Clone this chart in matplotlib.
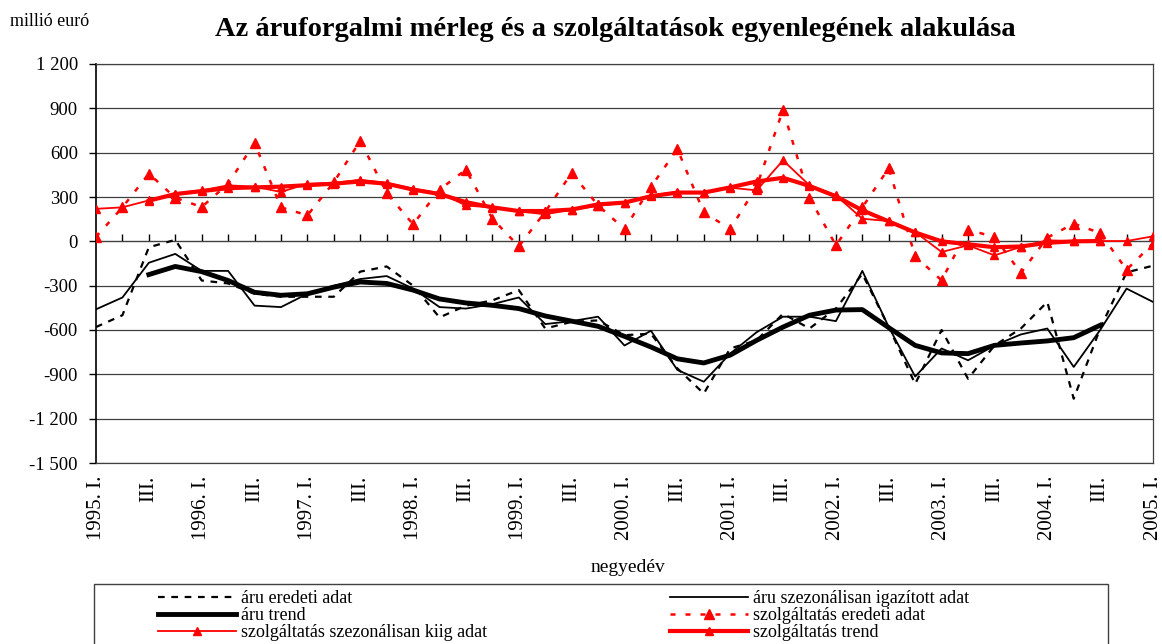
import numpy as np
import matplotlib
matplotlib.use("Agg")
import matplotlib.pyplot as plt
from matplotlib.patches import Rectangle

plt.rcParams["font.family"] = ["Liberation Serif", "DejaVu Serif"]

# quarterly data, 1995 I .. 2005 I (41 quarters), millió euró
quarters = list(range(41))
tick_labels = []
for year in range(1995, 2006):
    tick_labels += [f"{year}. I.", "III."]
tick_labels = tick_labels[:21]

aru_eredeti = [-580, -500, -40, 10, -265, -285, -355, -375, -375, -375,
               -205, -170, -300, -515, -435, -400, -330, -590, -545, -535,
               -635, -625, -860, -1030, -725, -670, -490, -590, -455, -220,
               -580, -965, -600, -930, -705, -590, -410, -1065, -590, -210, -165]
aru_szez = [-460, -380, -145, -85, -200, -200, -435, -445, -355, -300,
            -255, -235, -320, -445, -455, -425, -380, -560, -540, -510,
            -705, -605, -870, -950, -760, -615, -510, -510, -540, -200,
            -580, -915, -725, -805, -705, -630, -590, -850, -600, -320, -410]
aru_trend = [np.nan, np.nan, -225, -170, -205, -265, -345, -365, -355, -310,
             -275, -285, -330, -390, -417, -433, -455, -505, -540, -575,
             -643, -715, -795, -823, -770, -670, -580, -500, -465, -462,
             -584, -704, -755, -760, -704, -688, -674, -652, -568, np.nan, np.nan]
szolg_eredeti = [30, 230, 458, 295, 232, 390, 665, 230, 176, 400,
                 680, 327, 115, 350, 485, 153, -34, 200, 462, 243,
                 83, 368, 625, 196, 83, 370, 890, 295, -27, 230,
                 495, -101, -264, 79, 29, -214, 25, 120, 56, -192, -15]
szolg_szez = [220, 230, 277, 322, 345, 379, 370, 334, 390, 395,
              417, 395, 356, 327, 243, 228, 203, 183, 214, 240,
              260, 311, 334, 325, 363, 345, 548, 379, 311, 153,
              137, 63, -72, -27, -95, -38, 7, 2, 2, 2, 34]
szolg_trend = [np.nan, np.nan, 275, 320, 340, 360, 365, 370, 380, 390,
               405, 390, 350, 320, 265, 230, 205, 205, 215, 250,
               262, 305, 330, 330, 365, 405, 430, 375, 305, 210,
               135, 60, 0, -20, -40, -35, -10, 0, 2, np.nan, np.nan]

W, H = 1162, 644
fig = plt.figure(figsize=(W / 100, H / 100), dpi=100)
ax = fig.add_axes([96 / W, 1 - 463 / H, (1153 - 96) / W, (463 - 64) / H])

l1, = ax.plot(quarters, aru_eredeti, color="black", lw=1.6, ls=(0, (3, 3)), zorder=3)
l2, = ax.plot(quarters, aru_szez, color="black", lw=1.3, zorder=3)
l3, = ax.plot(quarters, aru_trend, color="black", lw=3.5, zorder=3)
l4, = ax.plot(quarters, szolg_eredeti, color="red", lw=1.8, ls=(0, (2, 4)),
              marker="^", ms=7, zorder=4)
l5, = ax.plot(quarters, szolg_szez, color="red", lw=1.3, marker="^", ms=6, zorder=4)
l6, = ax.plot(quarters, szolg_trend, color="red", lw=3, marker="^", ms=6, zorder=4)

ax.set_xlim(0, 40)
ax.set_ylim(-1500, 1200)
yt = np.arange(-1500, 1201, 300)
ax.set_yticks(yt)
ax.set_yticklabels([f"{v:,}".replace(",", " ") for v in yt], fontsize=13.5)
ax.tick_params(axis="y", direction="out", length=5, width=1, pad=8)
ax.grid(axis="y", color="#404040", lw=0.9)
ax.set_axisbelow(True)

ax.set_xticks(range(0, 41, 2))
ax.set_xticklabels(tick_labels, rotation=90, fontsize=15)
ax.tick_params(axis="x", length=0, pad=9)

for s in ["top", "right", "bottom"]:
    ax.spines[s].set_color("#404040")
    ax.spines[s].set_linewidth(0.9)
ax.spines["left"].set_linewidth(1.2)

# category axis crossing at zero
sec = ax.secondary_xaxis(1500 / 2700)
sec.set_xticks(range(41))
sec.set_xticklabels([])
sec.tick_params(direction="out", length=5, width=1)
sec.spines["bottom"].set_linewidth(1.2)

fig.text(10 / W, 1 - 21 / H, "millió euró", fontsize=13, va="center")
fig.text(615 / W, 1 - 30 / H,
         "Az áruforgalmi mérleg és a szolgáltatások egyenlegének alakulása",
         fontsize=20.5, fontweight="bold", ha="center", va="center")
fig.text(628 / W, 1 - 567 / H, "negyedév", fontsize=14, ha="center", va="center")

fig.add_artist(Rectangle((94 / W, -0.02), (1108 - 94) / W, 1 - 584 / H + 0.02,
                         transform=fig.transFigure, fill=False, ec="#404040", lw=1))
leg_kw = dict(loc="upper left", frameon=False, fontsize=13, handlelength=4.3,
              handletextpad=0.3, labelspacing=0.0, borderpad=0, borderaxespad=0,
              numpoints=1)
fig.legend([l1, l3, l5],
           ["áru eredeti adat", "áru trend", "szolgáltatás szezonálisan kiig adat"],
           bbox_to_anchor=(158 / W, 1 - 590 / H), **leg_kw)
fig.legend([l2, l4, l6],
           ["áru szezonálisan igazított adat", "szolgáltatás eredeti adat",
            "szolgáltatás trend"],
           bbox_to_anchor=(670 / W, 1 - 590 / H), **leg_kw)

fig.savefig("out.png", dpi=100)
